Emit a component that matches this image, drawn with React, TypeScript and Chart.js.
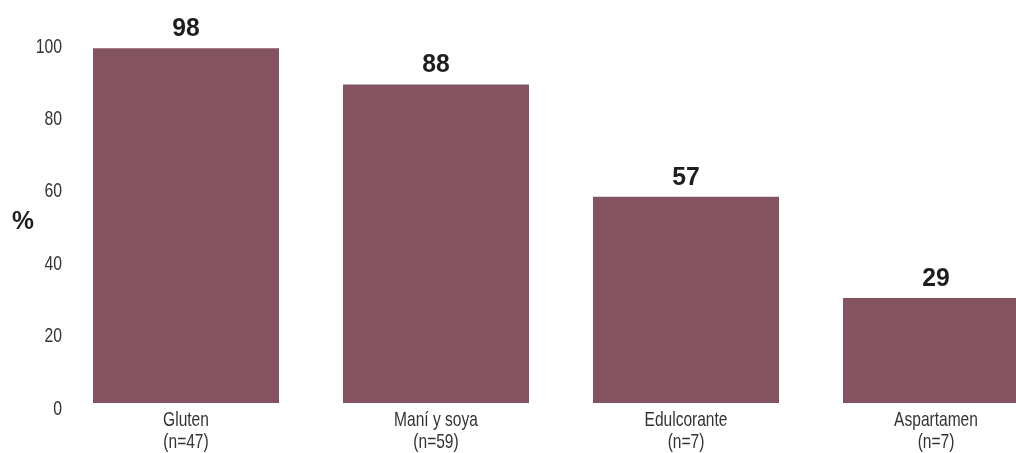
import React, { useEffect, useRef } from 'react';
import { Chart, registerables } from 'chart.js';

Chart.register(...registerables);

const categories = ['Gluten', 'Maní y soya', 'Edulcorante', 'Aspartamen'];
const sampleSizes = ['(n=47)', '(n=59)', '(n=7)', '(n=7)'];
const values = [98, 88, 57, 29];
const yTicks = [0, 20, 40, 60, 80, 100];
const yAxisTitle = '%';

const FONT = '"Liberation Sans", Arial, Helvetica, sans-serif';
const BAR_COLOR = '#845360';

function drawText(ctx: CanvasRenderingContext2D, text: string, x: number, y: number, align: CanvasTextAlign, sx: number) {
  ctx.save();
  ctx.translate(x, y);
  ctx.scale(sx, 1);
  ctx.textAlign = align;
  ctx.textBaseline = 'alphabetic';
  ctx.fillText(text, 0, 0);
  ctx.restore();
}

const labelPlugin = {
  id: 'customLabels',
  afterDatasetsDraw(chart: any) {
    const { ctx, chartArea } = chart;
    const yScale = chart.scales.y;
    const xScale = chart.scales.x;
    ctx.save();
    // y tick labels
    ctx.font = `21px ${FONT}`;
    ctx.fillStyle = '#333333';
    yTicks.forEach((v) => {
      drawText(ctx, String(v), 62, yScale.getPixelForValue(v) + 11.5, 'right', 0.75);
    });
    // x category labels
    categories.forEach((c, i) => {
      const x = xScale.getPixelForValue(i);
      drawText(ctx, c, x, chartArea.bottom + 23, 'center', 0.74);
      drawText(ctx, sampleSizes[i], x, chartArea.bottom + 45, 'center', 0.74);
    });
    // value labels
    ctx.font = `bold 26px ${FONT}`;
    ctx.fillStyle = '#1e1e1e';
    const meta = chart.getDatasetMeta(0);
    meta.data.forEach((bar: any, i: number) => {
      drawText(ctx, String(values[i]), bar.x, bar.y - 12, 'center', 0.95);
    });
    // axis title
    drawText(ctx, yAxisTitle, 23, 229, 'center', 0.95);
    ctx.restore();
  },
};

export default function App() {
  const canvasRef = useRef<HTMLCanvasElement | null>(null);

  useEffect(() => {
    document.documentElement.style.overflow = 'hidden';
    document.body.style.overflow = 'hidden';
    document.body.style.margin = '0';
    const canvas = canvasRef.current;
    if (!canvas) return;
    const chart = new Chart(canvas, {
      type: 'bar',
      data: {
        labels: categories,
        datasets: [
          {
            data: values,
            backgroundColor: BAR_COLOR,
            borderWidth: 0,
            barPercentage: 0.744,
            categoryPercentage: 1,
          },
        ],
      },
      options: {
        animation: false,
        responsive: true,
        maintainAspectRatio: false,
        layout: { padding: { left: 61, right: 9, top: 41, bottom: 50 } },
        plugins: {
          legend: { display: false },
          tooltip: { enabled: false },
        },
        scales: {
          x: { type: 'category', display: false, offset: true },
          y: { min: 0, max: 100, display: false },
        },
      },
      plugins: [labelPlugin],
    });
    return () => chart.destroy();
  }, []);

  return (
    <div style={{ width: 1016, height: 453, overflow: 'hidden' }}>
      <div style={{ width: 1070, height: 453, position: 'relative' }}>
        <canvas ref={canvasRef} />
      </div>
    </div>
  );
}
